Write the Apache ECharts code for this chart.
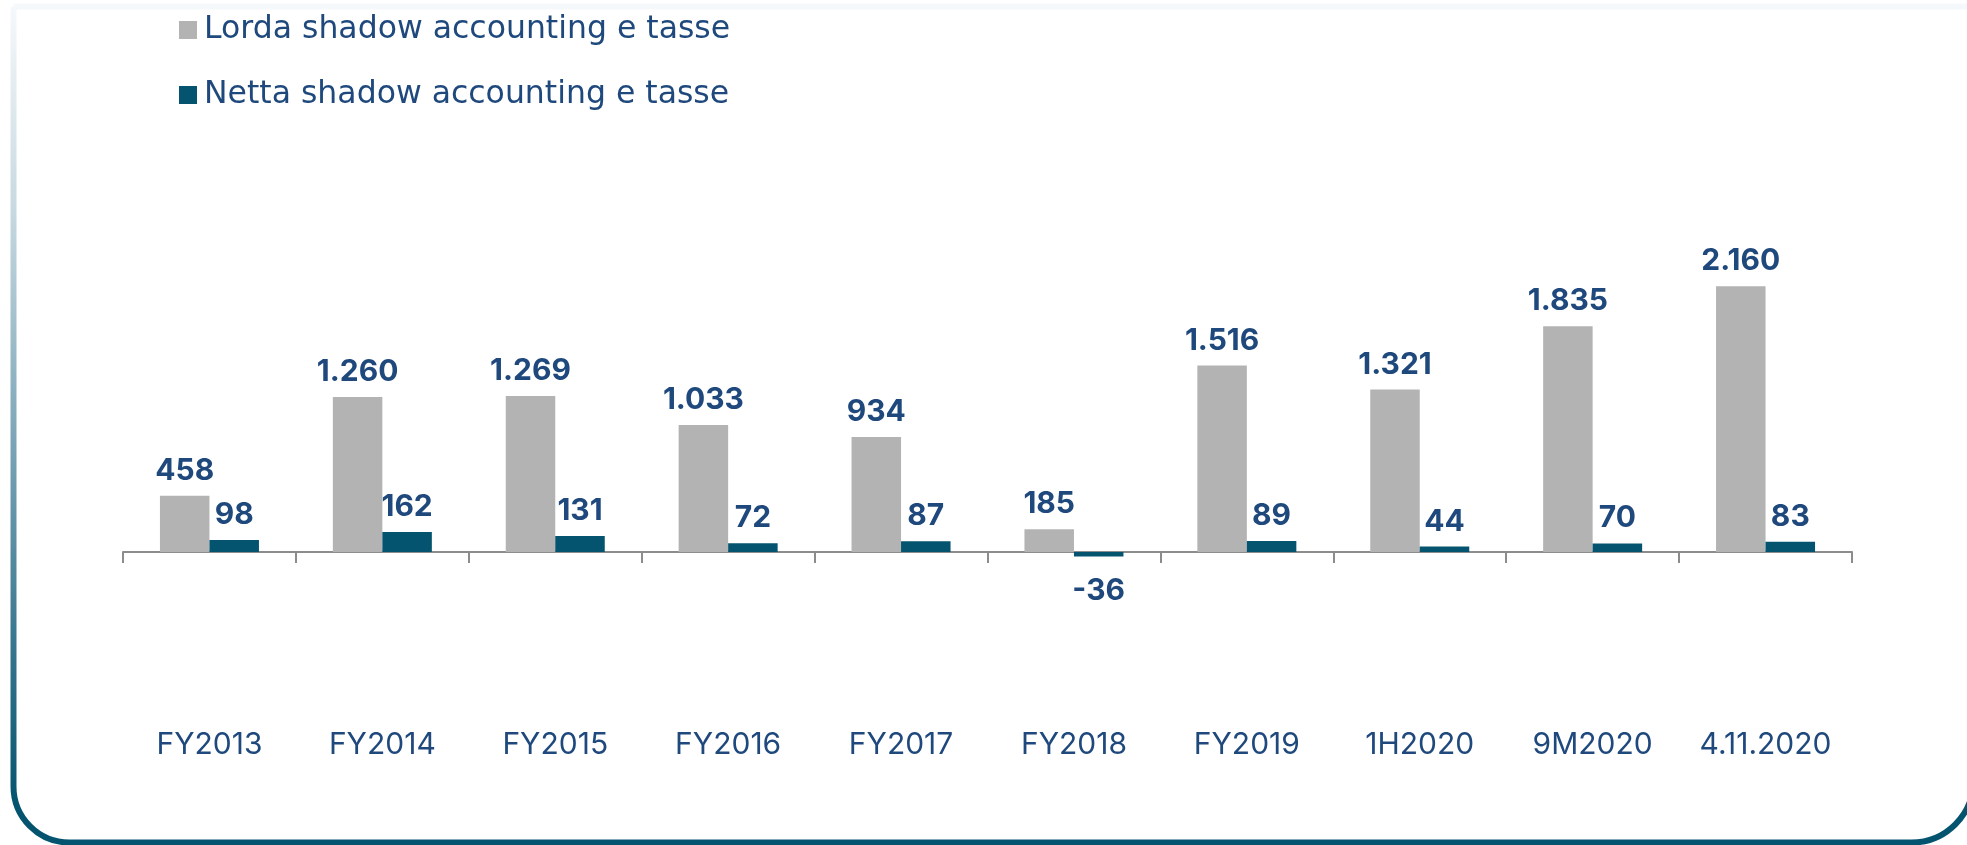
<!DOCTYPE html>
<html>
<head>
<meta charset="utf-8">
<script src="https://cdn.jsdelivr.net/npm/echarts@6/dist/echarts.min.js"></script>
<style>
  html, body { margin: 0; padding: 0; background: #fff; overflow: hidden; }
  #chart { width: 1967px; height: 845px; }
</style>
</head>
<body>
<div id="chart"></div>
<script>
// categorie asse X
const categories = ['FY2013', 'FY2014', 'FY2015', 'FY2016', 'FY2017', 'FY2018', 'FY2019', '1H2020', '9M2020', '4.11.2020']
// serie
const seriesNames = ['Lorda shadow accounting e tasse', 'Netta shadow accounting e tasse']
const lordaValues = [458, 1260, 1269, 1033, 934, 185, 1516, 1321, 1835, 2160]
const nettaValues = [98, 162, 131, 72, 87, -36, 89, 44, 70, 83]

const textColor = '#1f497d'
const legendFont = '"DejaVu Sans", "Noto Sans", sans-serif'
const numFont = 'Inter, "Noto Sans", sans-serif'

// formato italiano: 1.260
function fmt(v) {
  return String(v).replace(/\B(?=(\d{3})+(?!\d))/g, '.')
}

// valori negativi: etichetta sotto la barra
function toData(values) {
  return values.map(v => v < 0
    ? { value: v, label: { position: 'bottom', distance: 20 } }
    : v)
}

const labelStyle = {
  show: true,
  position: 'top',
  distance: 10,
  color: textColor,
  fontFamily: numFont,
  fontWeight: 'bold',
  fontSize: 30,
  formatter: p => fmt(p.value)
}

let myChart = echarts.init(document.getElementById('chart'))
let option = {
  animation: false,
  backgroundColor: '#fff',
  graphic: [
    {
      // cornice (bordo destro quasi fuori dall'immagine)
      type: 'rect',
      silent: true,
      shape: { x: 13.5, y: 6.5, width: 1960, height: 836, r: [0, 0, 62, 56] },
      style: {
        fill: 'none',
        lineWidth: 6,
        stroke: new echarts.graphic.LinearGradient(0, 0, 0, 1, [
          { offset: 0, color: '#f6f9fb' },
          { offset: 0.25, color: '#c6d8e0' },
          { offset: 0.5, color: '#80a9ba' },
          { offset: 0.75, color: '#3a7891' },
          { offset: 0.95, color: '#04546f' },
          { offset: 1, color: '#04546f' }
        ])
      }
    }
  ],
  legend: {
    orient: 'vertical',
    left: 174,
    top: 7,
    itemWidth: 18,
    itemHeight: 18,
    itemGap: 29,
    icon: 'rect',
    data: seriesNames,
    textStyle: {
      color: textColor,
      fontFamily: legendFont,
      fontSize: 31.5,
      lineHeight: 36,
      padding: [0, 0, 0, 2]
    }
  },
  grid: {
    left: 123,
    right: 115,
    top: 244.5,
    bottom: 231.5,
    containLabel: false
  },
  xAxis: {
    type: 'category',
    data: categories,
    axisLine: { onZero: true, lineStyle: { color: '#8c8c8c', width: 2 } },
    axisTick: { show: true, interval: 0, length: 11, lineStyle: { color: '#8c8c8c', width: 2 } },
    axisLabel: {
      interval: 0,
      margin: 116,
      color: textColor,
      fontFamily: numFont,
      fontSize: 30
    }
  },
  yAxis: {
    type: 'value',
    min: -500,
    max: 2500,
    show: false,
    splitLine: { show: false }
  },
  series: [
    {
      name: seriesNames[0],
      type: 'bar',
      barWidth: 49.5,
      barGap: '0%',
      itemStyle: { color: '#b2b3b2' },
      label: labelStyle,
      data: toData(lordaValues)
    },
    {
      name: seriesNames[1],
      type: 'bar',
      barWidth: 49.5,
      barGap: '0%',
      itemStyle: { color: '#04546f' },
      label: labelStyle,
      data: toData(nettaValues)
    }
  ]
}
myChart.setOption(option)
</script>
</body>
</html>
